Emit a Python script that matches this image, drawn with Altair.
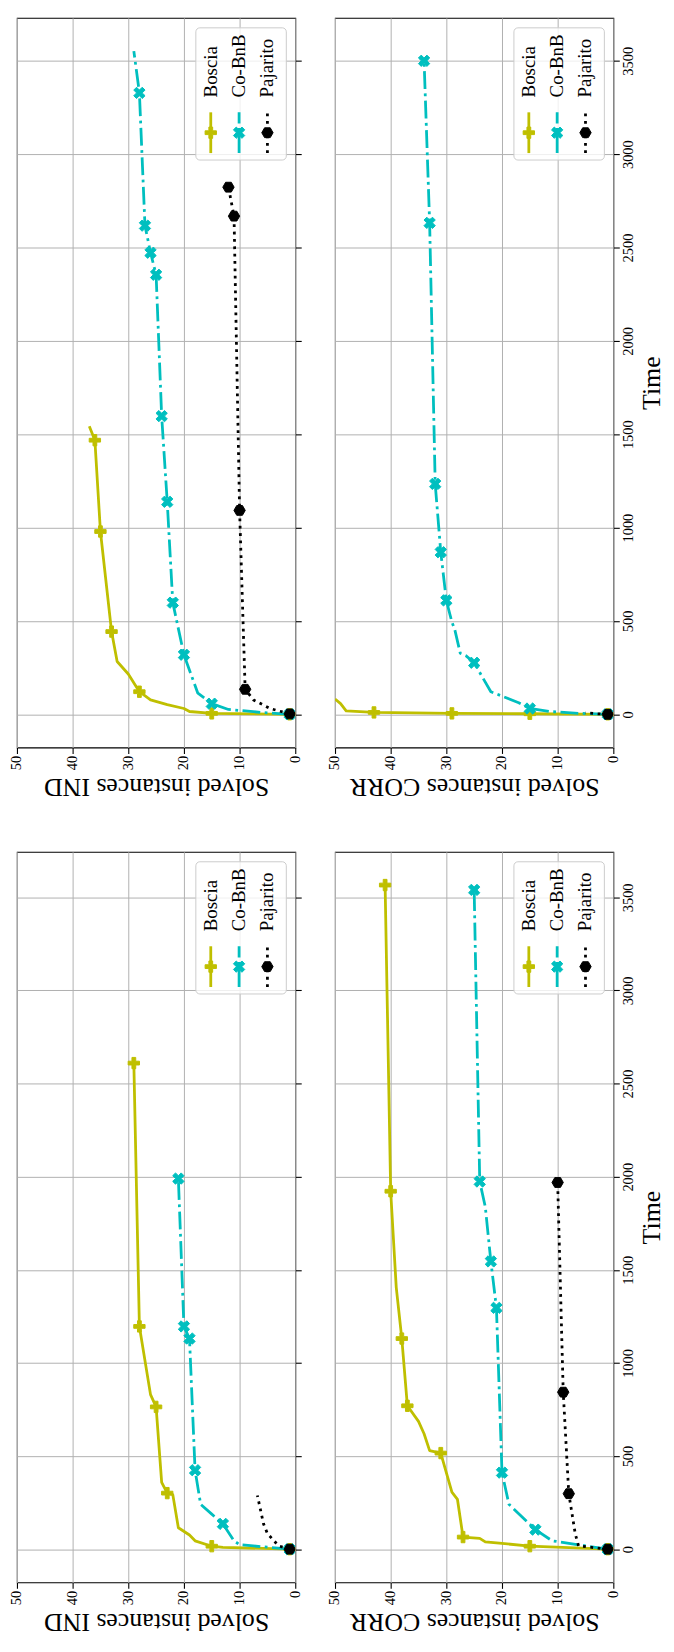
import altair as alt
import pandas as pd

# ---------------- data ----------------
SOLVERS = ["Boscia", "Co-BnB", "Pajarito"]

# upper figure
A_IND_BOSCIA_T = [0, 5, 15, 31, 52, 77, 121, 216, 283, 443, 979, 1468, 1543]
A_IND_BOSCIA_S = [1, 15, 19, 20, 23, 26, 28, 30, 32, 33, 35, 36, 37]
A_IND_BOSCIA_M = [0, 1, 6, 9, 10, 11]
A_IND_COBNB_T = [0, 10, 26, 57, 113, 319, 598, 1138, 1597, 2354, 2472, 2617, 3328, 3552]
A_IND_COBNB_S = [1, 6, 12, 15, 17.5, 20, 22, 23, 24, 25, 26, 27, 28, 29]
A_IND_COBNB_M = [0, 3, 5, 6, 7, 8, 9, 10, 11, 12]
A_IND_PAJ_T = [2, 31, 77, 134, 1092, 2668, 2823]
A_IND_PAJ_S = [1, 4.5, 7.5, 9, 10, 11, 12]
A_IND_PAJ_M = [0, 3, 4, 5, 6]

A_CORR_BOSCIA_T = [0, 3, 5, 10, 18, 57, 82]
A_CORR_BOSCIA_S = [1, 15, 29, 43, 48, 49, 50]
A_CORR_BOSCIA_M = [0, 1, 2, 3]
A_CORR_COBNB_T = [0, 5, 15, 31, 62, 121, 198, 276, 314, 327, 456, 494, 610, 868, 1234, 2632, 3500]
A_CORR_COBNB_S = [1, 6, 11.5, 15, 17, 22, 23.5, 25, 26.5, 27.5, 28.5, 29, 30, 31, 32, 33, 34]
A_CORR_COBNB_M = [0, 3, 7, 12, 13, 14, 15, 16]
A_CORR_PAJ_T = [0, 3, 8]
A_CORR_PAJ_S = [1, 3, 5]
A_CORR_PAJ_M = [0]

# lower figure
B_IND_BOSCIA_T = [0, 10, 16, 45, 76, 115, 293, 301, 359, 764, 830, 1196, 2610]
B_IND_BOSCIA_S = [1, 13, 15, 18, 19, 21, 22, 23, 24, 25, 26, 28, 29]
B_IND_BOSCIA_M = [0, 2, 7, 9, 11, 12]
B_IND_COBNB_T = [0, 24, 45, 136, 188, 241, 424, 1131, 1196, 1990]
B_IND_COBNB_S = [1, 10, 11, 13, 15, 17, 18, 19, 20, 21]
B_IND_COBNB_M = [0, 3, 6, 7, 8, 9]
B_IND_PAJ_T = [0, 18, 84, 136, 288]
B_IND_PAJ_S = [1, 3, 5, 5.7, 6.8]
B_IND_PAJ_M = [0]

B_CORR_BOSCIA_T = [0, 16, 31, 39, 58, 65, 267, 306, 516, 529, 620, 686, 770, 1131, 1406, 1922, 3566]
B_CORR_BOSCIA_S = [1, 15, 20, 23, 24, 27, 28, 29, 31, 33, 34, 35, 37, 38, 39, 40, 41]
B_CORR_BOSCIA_M = [0, 1, 5, 8, 12, 13, 15, 16]
B_CORR_COBNB_T = [0, 45, 105, 241, 411, 1296, 1545, 1838, 1974, 3540]
B_CORR_COBNB_S = [1, 11, 14, 18.75, 20, 21, 22, 23, 24, 25]
B_CORR_COBNB_M = [0, 2, 4, 5, 6, 8, 9]
B_CORR_PAJ_T = [0, 18, 84, 298, 843, 1969]
B_CORR_PAJ_S = [1, 6.25, 6.85, 8, 9, 10]
B_CORR_PAJ_M = [0, 3, 4, 5]

SOLVED_TICKS = [0, 10, 20, 30, 40, 50]
TIME_TICKS = [0, 500, 1000, 1500, 2000, 2500, 3000, 3500]

# ---------------- style ----------------
FONT = "Liberation Serif"
COLORS = {"Boscia": "#bfbf00", "Co-BnB": "#00bfbf", "Pajarito": "#000000"}
LW = 2.8
DASH = {"Co-BnB": [17.9, 4.5, 2.8, 4.5], "Pajarito": [2.8, 4.6]}
PLUS = [(-1, -3), (-1, -1), (-3, -1), (-3, 1), (-1, 1), (-1, 3), (1, 3), (1, 1),
        (3, 1), (3, -1), (1, -1), (1, -3)]
XF = [(-1, -2), (0, -1), (1, -2), (2, -1), (1, 0), (2, 1), (1, 2), (0, 1),
      (-1, 2), (-2, 1), (-1, 0), (-2, -1)]


def path(pts, div):
    return "M" + "L".join(f"{x / div:.3f},{y / div:.3f}" for x, y in pts) + "Z"


SHAPES = {
    "Boscia": path(PLUS, 3),
    "Co-BnB": path(XF, 2),
    "Pajarito": "M1,0L0.5,0.866L-0.5,0.866L-1,0L-0.5,-0.866L0.5,-0.866Z",
}
MSIZE = 130

PW = 280


def line_kw(name):
    kw = dict(color=COLORS[name], strokeWidth=LW, clip=True, strokeJoin="round")
    if name in DASH:
        kw["strokeDash"] = DASH[name]
    return kw


def panel(series, title, tdomain, show_time, height):
    xs = alt.Scale(domain=[0, 50], reverse=True, nice=False, zero=False)
    ys = alt.Scale(domain=tdomain, nice=False, zero=False)
    xaxis = alt.Axis(values=SOLVED_TICKS, title=title, orient="bottom",
                     format="d",
                     labelAngle=270, labelAlign="right", labelBaseline="middle",
                     labelFlush=False, labelOverlap=False,
                     titleAngle=180, titleBaseline="bottom", titlePadding=4)
    ykw = dict(values=TIME_TICKS, orient="right", labelAngle=270, format="d",
               labelAlign="center", labelBaseline="top", labelFlush=False,
               labelOverlap=False, labels=show_time,
               title="Time" if show_time else "")
    if show_time:
        ykw.update(titleAngle=270, titleBaseline="top", titlePadding=4)
    yaxis = alt.Axis(**ykw)
    xenc = alt.X("solved:Q", scale=xs, axis=xaxis)
    yenc = alt.Y("time:Q", scale=ys, axis=yaxis)

    layers = []
    for name, (t, s, m) in zip(SOLVERS, series):
        df = pd.DataFrame({"time": t, "solved": s})
        layers.append(alt.Chart(df).mark_line(**line_kw(name)).encode(
            x=xenc, y=yenc, order="time:Q"))
        layers.append(alt.Chart(df.iloc[m]).mark_point(
            shape=SHAPES[name], filled=True, size=MSIZE, opacity=1,
            color=COLORS[name], stroke=COLORS[name], strokeWidth=1, clip=True
        ).encode(x=xenc, y=yenc))

    # legend (drawn inside the plot, rotated like the rest)
    one = pd.DataFrame({"k": [0]})
    layers.append(alt.Chart(one).mark_rect(
        fill="white", fillOpacity=0.8, stroke="#cccccc", strokeWidth=1,
        cornerRadius=4).encode(x=alt.value(180), x2=alt.value(271),
                               y=alt.value(10), y2=alt.value(143)))
    for i, name in enumerate(SOLVERS):
        cx = 195 + i * 28.5
        df = pd.DataFrame({"name": [name]})
        rkw = dict(color=COLORS[name], strokeWidth=LW)
        if name in DASH:
            rkw["strokeDash"] = DASH[name]
        layers.append(alt.Chart(df).mark_rule(**rkw).encode(
            x=alt.value(cx), y=alt.value(136), y2=alt.value(95)))
        layers.append(alt.Chart(df).mark_point(
            shape=SHAPES[name], filled=True, size=MSIZE, opacity=1,
            color=COLORS[name], stroke=COLORS[name], strokeWidth=1
        ).encode(x=alt.value(cx), y=alt.value(115.5)))
        layers.append(alt.Chart(df).mark_text(
            angle=270, align="left", baseline="middle", fontSize=19,
            font=FONT, color="black").encode(
            x=alt.value(cx), y=alt.value(80), text="name:N"))
    return alt.layer(*layers).properties(width=PW, height=height)


def tdom(*lists):
    tmax = max(max(l) for l in lists)
    tmin = min(min(l) for l in lists)
    r = tmax - tmin
    return [tmin - 0.05 * r, tmax + 0.05 * r]


domA = tdom(A_IND_BOSCIA_T, A_IND_COBNB_T, A_IND_PAJ_T,
            A_CORR_BOSCIA_T, A_CORR_COBNB_T, A_CORR_PAJ_T)
domB = tdom(B_IND_BOSCIA_T, B_IND_COBNB_T, B_IND_PAJ_T,
            B_CORR_BOSCIA_T, B_CORR_COBNB_T, B_CORR_PAJ_T)

pA1 = panel([(A_IND_BOSCIA_T, A_IND_BOSCIA_S, A_IND_BOSCIA_M),
             (A_IND_COBNB_T, A_IND_COBNB_S, A_IND_COBNB_M),
             (A_IND_PAJ_T, A_IND_PAJ_S, A_IND_PAJ_M)],
            "Solved instances IND", domA, False, 734)
pA2 = panel([(A_CORR_BOSCIA_T, A_CORR_BOSCIA_S, A_CORR_BOSCIA_M),
             (A_CORR_COBNB_T, A_CORR_COBNB_S, A_CORR_COBNB_M),
             (A_CORR_PAJ_T, A_CORR_PAJ_S, A_CORR_PAJ_M)],
            "Solved instances CORR", domA, True, 734)
pB1 = panel([(B_IND_BOSCIA_T, B_IND_BOSCIA_S, B_IND_BOSCIA_M),
             (B_IND_COBNB_T, B_IND_COBNB_S, B_IND_COBNB_M),
             (B_IND_PAJ_T, B_IND_PAJ_S, B_IND_PAJ_M)],
            "Solved instances IND", domB, False, 735)
pB2 = panel([(B_CORR_BOSCIA_T, B_CORR_BOSCIA_S, B_CORR_BOSCIA_M),
             (B_CORR_COBNB_T, B_CORR_COBNB_S, B_CORR_COBNB_M),
             (B_CORR_PAJ_T, B_CORR_PAJ_S, B_CORR_PAJ_M)],
            "Solved instances CORR", domB, True, 735)

chart = alt.concat(pA1, pA2, pB1, pB2, columns=2,
                   spacing=alt.RowColnumber(row=105, column=40),
                   bounds="flush").configure(
    font=FONT,
    padding={"left": 0, "top": 4, "right": 0, "bottom": 0},
).configure_view(stroke="black", strokeWidth=1.1).configure_axis(
    grid=True, gridColor="#b0b0b0", gridWidth=1,
    domain=False, tickColor="black", tickWidth=1.1, tickSize=6,
    labelFont=FONT, labelFontSize=14.5, labelColor="black", labelPadding=2,
    titleFont=FONT, titleFontSize=26, titleFontWeight="normal",
    titleColor="black",
)

chart.save("out.html", embed_options={"renderer": "svg", "actions": False})
